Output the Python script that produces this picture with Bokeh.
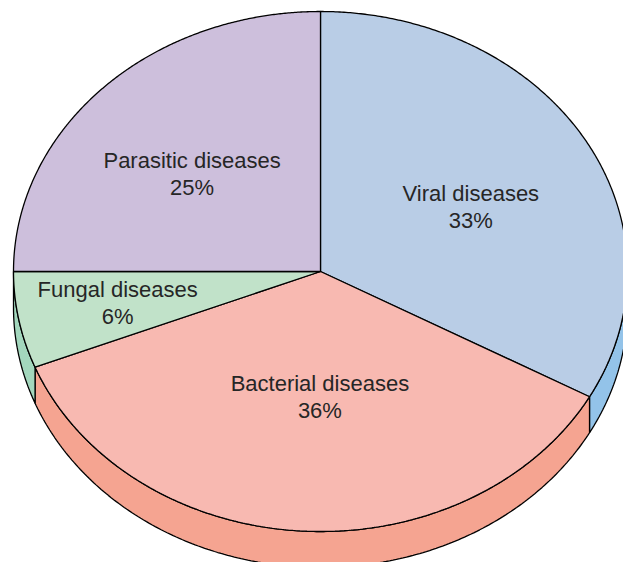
import numpy as np
from bokeh.plotting import figure
from bokeh.models import Range1d
from bokeh.embed import file_html
from bokeh.resources import INLINE
from bokeh.core.properties import value

# ---- data ----
categories = ["Viral diseases", "Bacterial diseases", "Fungal diseases", "Parasitic diseases"]
values = [33, 36, 6, 25]

# ---- style / layout ----
top_colors = ["#b9cde6", "#f8b9b1", "#c1e2c9", "#cdbfdc"]
side_colors = ["#93c3e9", "#f5a491", "#a3d7bd", "#b7a6cc"]
label_nudge = [(5, 8), (10, -17), (-37, 5), (-9, 4)]
CX, CY, RX, RY, DEPTH = 320.0, 271.0, 307.0, 260.0, 36.0
LABEL_R = 0.55
FONT = "Liberation Sans"

fracs = np.array(values, dtype=float) / sum(values)
bounds = np.concatenate([[0.0], np.cumsum(fracs)]) * 2 * np.pi


def pt(t, dy=0.0):
    return CX + RX * np.sin(t), CY - RY * np.cos(t) + dy


p = figure(width=623, height=562, x_range=Range1d(0, 623), y_range=Range1d(562, 0),
           min_border=0, toolbar_location=None, output_backend="svg",
           background_fill_color="white", border_fill_color="white")
p.outline_line_color = None
p.axis.visible = False
p.grid.visible = False

# side walls (front half only)
sx, sy, sc = [], [], []
for i in range(len(values)):
    lo = max(bounds[i], np.pi / 2)
    hi = min(bounds[i + 1], 3 * np.pi / 2)
    if hi > lo:
        ts = np.linspace(lo, hi, 200)
        x, y = pt(ts)
        sx.append(list(x) + list(x[::-1]))
        sy.append(list(y) + list((y + DEPTH)[::-1]))
        sc.append(side_colors[i])
p.patches(sx, sy, fill_color=sc, line_color="black", line_width=1.3)

# top faces
tx, ty = [], []
for i in range(len(values)):
    ts = np.linspace(bounds[i], bounds[i + 1], 300)
    x, y = pt(ts)
    tx.append([CX] + list(x))
    ty.append([CY] + list(y))
p.patches(tx, ty, fill_color=top_colors, line_color="black", line_width=1.3)

# labels
lx, ly, names, pcts = [], [], [], []
for i, c in enumerate(categories):
    tm = (bounds[i] + bounds[i + 1]) / 2
    x = CX + LABEL_R * RX * np.sin(tm) + label_nudge[i][0]
    y = CY - LABEL_R * RY * np.cos(tm) + label_nudge[i][1]
    lx.append(x)
    ly.append(y)
    names.append(c)
    pcts.append(f"{values[i] / sum(values) * 100:.0f}%")

common = dict(text_align="center", text_baseline="middle", text_color="#262626",
              text_font=value(FONT), text_font_size="22px")
p.text(x=lx, y=[v - 13.5 for v in ly], text=names, **common)
p.text(x=lx, y=[v + 13.5 for v in ly], text=pcts, **common)

open("out.html", "w").write(file_html(p, INLINE))
